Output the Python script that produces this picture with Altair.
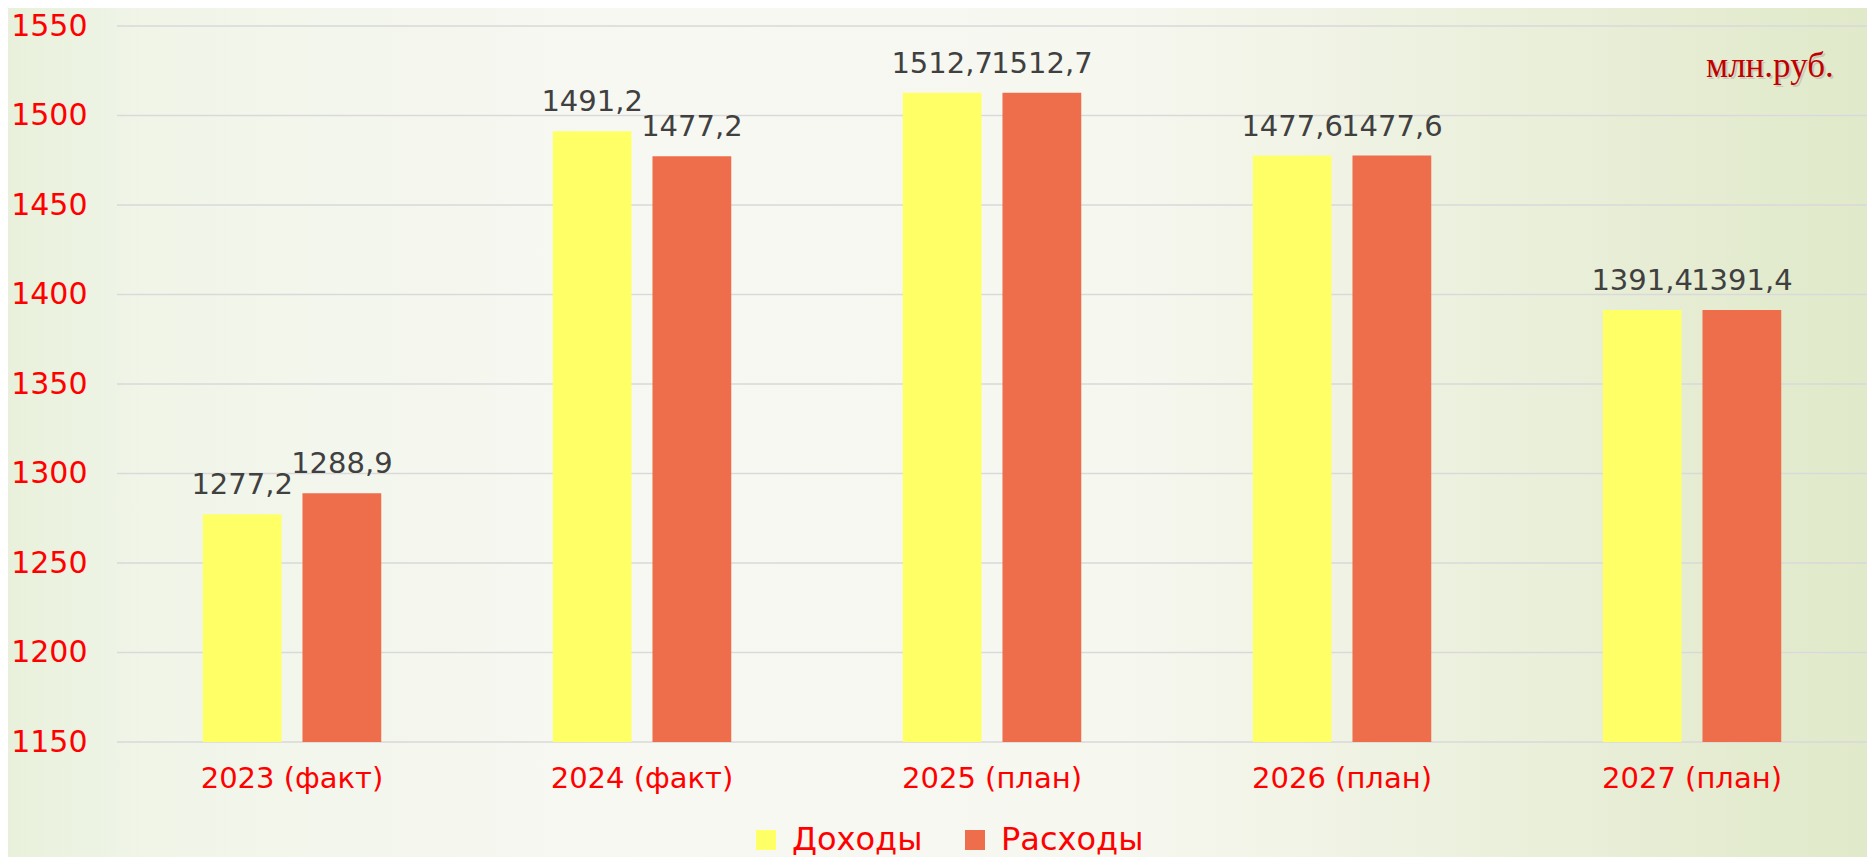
import altair as alt
import pandas as pd

categories = ["2023 (факт)", "2024 (факт)", "2025 (план)", "2026 (план)", "2027 (план)"]
series = ["Доходы", "Расходы"]
income = [1277.2, 1491.2, 1512.7, 1477.6, 1391.4]
expenses = [1288.9, 1477.2, 1512.7, 1477.6, 1391.4]
y_ticks = [1150, 1200, 1250, 1300, 1350, 1400, 1450, 1500, 1550]
unit_label = "млн.руб."

rows = []
for cat, inc, exp in zip(categories, income, expenses):
    for s, v in zip(series, [inc, exp]):
        rows.append({"cat": cat, "series": s, "value": v,
                     "label": f"{v:.1f}".replace(".", ",")})
df = pd.DataFrame(rows)
grid_df = pd.DataFrame({"tick": y_ticks})

W, H = 1750, 716
FONT = "DejaVu Sans"
Y_MIN, Y_MAX = 1150, 1550

yscale = alt.Scale(domain=[Y_MIN, Y_MAX], zero=False, nice=False)
yaxis = alt.Axis(values=y_ticks, format="d", labelColor="#FF0000", labelFontSize=30,
                 labelFont=FONT, labelPadding=30, ticks=False, domain=False,
                 grid=False, zindex=1, title=None)

bg = alt.Chart(pd.DataFrame({"a": [0]})).mark_rect(
    fill=alt.LinearGradient(
        gradient="linear", x1=0, x2=1, y1=0, y2=0,
        stops=[alt.GradientStop(color="#E8F0DA", offset=0),
               alt.GradientStop(color="#F0F5E8", offset=0.08),
               alt.GradientStop(color="#F8F8F3", offset=0.35),
               alt.GradientStop(color="#F6F7EF", offset=0.6),
               alt.GradientStop(color="#E0E9C9", offset=1)]),
).encode(x=alt.value(-120), x2=alt.value(W + 10), y=alt.value(-30), y2=alt.value(H + 140))

grid = alt.Chart(grid_df).mark_rule(color="#D9D9D9", strokeWidth=1.6).encode(
    y=alt.Y("tick:Q", scale=yscale, axis=yaxis, title=None),
    x=alt.value(0), x2=alt.value(W),
)

x_enc = alt.X("cat:N", sort=categories, title=None,
              scale=alt.Scale(paddingInner=0.49, paddingOuter=0.245),
              axis=alt.Axis(labelColor="#FF0000", labelFontSize=29, labelFont=FONT,
                            labelPadding=22, ticks=False, domain=False, labelAngle=0,
                            grid=False, zindex=1, labelLimit=400))
xoff = alt.XOffset("series:N", sort=series, scale=alt.Scale(paddingInner=0.21, paddingOuter=0))

bars = alt.Chart(df).mark_bar().encode(
    x=x_enc,
    xOffset=xoff,
    y=alt.Y("value:Q", title=None, scale=yscale, axis=yaxis),
    y2=alt.datum(Y_MIN),
    color=alt.Color("series:N", sort=series,
                    scale=alt.Scale(domain=series, range=["#FFFF66", "#EE6E4C"]),
                    legend=alt.Legend(title=None, orient="none", legendX=633, legendY=798,
                                      direction="horizontal", symbolType="square",
                                      symbolSize=400, symbolStrokeWidth=0,
                                      labelFontSize=32, labelFont=FONT,
                                      labelColor="#FF0000", labelOffset=10,
                                      columnPadding=36, padding=0, labelLimit=400)),
)

labels = alt.Chart(df).mark_text(
    baseline="alphabetic", dy=-20, fontSize=29, font=FONT, color="#404040"
).encode(
    x=alt.X("cat:N", sort=categories),
    xOffset=xoff,
    y=alt.Y("value:Q", scale=yscale),
    text="label:N",
)

unit_shadow = alt.Chart(pd.DataFrame({"t": [unit_label]})).mark_text(
    align="left", baseline="alphabetic", fontSize=35, font="Liberation Serif",
    color="#B8B8A8", opacity=0.6
).encode(x=alt.value(1591), y=alt.value(53), text="t:N")

unit = alt.Chart(pd.DataFrame({"t": [unit_label]})).mark_text(
    align="left", baseline="alphabetic", fontSize=35, font="Liberation Serif",
    color="#C00000"
).encode(x=alt.value(1589), y=alt.value(51), text="t:N")

chart = alt.layer(bg, grid, bars, labels, unit_shadow, unit).properties(
    width=W, height=H,
    autosize=alt.AutoSizeParams(type="none"),
    padding={"left": 109, "top": 18, "right": 0, "bottom": 115},
    background="#F2F5EA",
).configure_view(stroke=None)

chart.save("out.html", embed_options={"renderer": "svg", "actions": False})
